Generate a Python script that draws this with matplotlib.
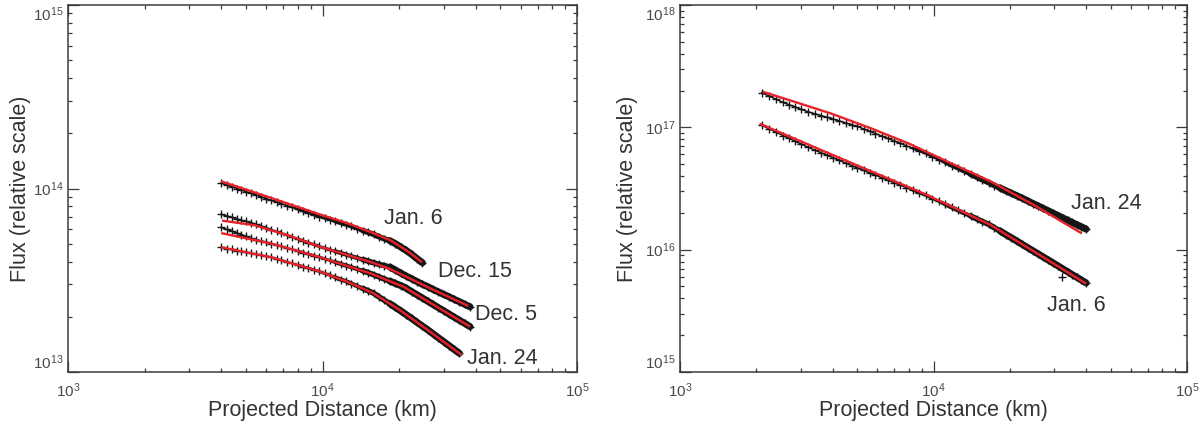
import numpy as np
import matplotlib
matplotlib.use("Agg")
import matplotlib.pyplot as plt
from matplotlib.ticker import LogLocator, NullFormatter

plt.rcParams['font.family'] = ['Liberation Sans', 'DejaVu Sans']
plt.rcParams['mathtext.fontset'] = 'custom'
plt.rcParams['mathtext.rm'] = 'Liberation Sans'
plt.rcParams['mathtext.it'] = 'Liberation Sans:italic'

# ---------------- data: left panel (distance km, log10 flux) ----------------
left_dist_km = [4000, 4200, 4400, 4600, 4800, 5000, 5250, 5500, 5750, 6000,
                6300, 6600, 6900, 7250, 7600, 8000, 8400, 8800, 9250, 9700,
                10200, 10700, 11200, 11800, 12400, 13000, 13700, 14400, 15100, 15900,
                16700, 17500, 18400, 19300, 20300, 21300, 22400, 23500, 24700, 25900,
                27200, 28500, 29900, 31400, 32900, 34500, 36200, 38000]

jan6_L_logflux = [14.029, 14.019, 14.010, 14.000, 13.992, 13.983, 13.973, 13.964, 13.954, 13.945,
                  13.935, 13.926, 13.917, 13.907, 13.897, 13.887, 13.877, 13.868, 13.857, 13.847,
                  13.838, 13.830, 13.821, 13.812, 13.803, 13.793, 13.782, 13.771, 13.761, 13.750,
                  13.737, 13.726, 13.715, 13.700, 13.681, 13.663, 13.641, 13.618, 13.595]

dec15_logflux = [13.859, 13.851, 13.842, 13.834, 13.827, 13.821, 13.813, 13.805, 13.795, 13.787,
                 13.776, 13.766, 13.757, 13.747, 13.736, 13.726, 13.715, 13.705, 13.695, 13.684,
                 13.675, 13.667, 13.658, 13.649, 13.640, 13.631, 13.622, 13.613, 13.604, 13.595,
                 13.586, 13.580, 13.572, 13.556, 13.539, 13.523, 13.508, 13.493, 13.478, 13.465,
                 13.450, 13.437, 13.423, 13.410, 13.396, 13.383, 13.369, 13.355]

dec5_logflux = [13.788, 13.777, 13.768, 13.758, 13.749, 13.739, 13.728, 13.721, 13.714, 13.708,
                13.700, 13.692, 13.685, 13.676, 13.668, 13.659, 13.651, 13.643, 13.634, 13.626,
                13.617, 13.608, 13.599, 13.589, 13.580, 13.571, 13.561, 13.551, 13.542, 13.530,
                13.518, 13.507, 13.495, 13.483, 13.471, 13.457, 13.438, 13.421, 13.403, 13.386,
                13.368, 13.351, 13.334, 13.316, 13.299, 13.282, 13.265, 13.247]

jan24_L_logflux = [13.679, 13.673, 13.668, 13.662, 13.657, 13.652, 13.647, 13.641, 13.636, 13.631,
                   13.625, 13.617, 13.609, 13.600, 13.592, 13.583, 13.574, 13.566, 13.557, 13.548,
                   13.537, 13.527, 13.516, 13.504, 13.494, 13.482, 13.468, 13.455, 13.443, 13.429,
                   13.409, 13.391, 13.372, 13.353, 13.333, 13.313, 13.292, 13.271, 13.250, 13.230,
                   13.208, 13.187, 13.166, 13.144, 13.123, 13.102]

# model fits (red) - left panel
jan6_L_fit_km = [4000, 6300, 9800, 12600, 15500, 18600, 21900, 24600]
jan6_L_fit_log = [14.039, 13.948, 13.858, 13.810, 13.762, 13.716, 13.653, 13.598]
dec15_fit_km = [4030, 5400, 7400, 9800, 12500, 15400, 18400, 26300, 37400]
dec15_fit_log = [13.825, 13.800, 13.743, 13.682, 13.638, 13.600, 13.562, 13.458, 13.360]
dec5_fit_km = [4000, 6300, 9800, 15400, 20800, 28100, 38000]
dec5_fit_log = [13.757, 13.700, 13.625, 13.538, 13.465, 13.356, 13.247]
jan24_L_fit_km = [4000, 6300, 9800, 12600, 15800, 20000, 25100, 35200]
jan24_L_fit_log = [13.680, 13.625, 13.547, 13.490, 13.430, 13.340, 13.243, 13.093]

# ---------------- data: right panel ----------------
right_dist_km = [2100, 2250, 2400, 2550, 2700, 2850, 3000, 3200, 3400, 3600,
                 3800, 4000, 4250, 4500, 4750, 5000, 5300, 5600, 5900, 6250,
                 6600, 7000, 7400, 7800, 8300, 8800, 9300, 9900, 10500, 11100,
                 11800, 12500, 13200, 14000, 14800, 15600, 16500, 17400, 18300, 19300,
                 20300, 21300, 22400, 23500, 24700, 25900, 27100, 28400, 29700, 31000,
                 32400, 33800, 35200, 36700, 38300, 40000]

jan24_R_logflux = [17.283, 17.255, 17.229, 17.203, 17.184, 17.166, 17.148, 17.127, 17.111, 17.096,
                   17.082, 17.069, 17.052, 17.036, 17.021, 17.007, 16.988, 16.968, 16.949, 16.929,
                   16.909, 16.889, 16.869, 16.850, 16.828, 16.808, 16.788, 16.761, 16.737, 16.714,
                   16.688, 16.664, 16.640, 16.616, 16.593, 16.571, 16.548, 16.524, 16.504, 16.481,
                   16.461, 16.441, 16.420, 16.399, 16.377, 16.357, 16.337, 16.317, 16.297, 16.279,
                   16.259, 16.241, 16.223, 16.205, 16.187, 16.168]

jan6_R_logflux = [17.016, 16.987, 16.959, 16.933, 16.909, 16.885, 16.864, 16.837, 16.814, 16.793,
                  16.772, 16.753, 16.730, 16.708, 16.688, 16.669, 16.648, 16.628, 16.609, 16.588,
                  16.568, 16.547, 16.527, 16.508, 16.485, 16.464, 16.444, 16.418, 16.394, 16.371,
                  16.345, 16.321, 16.298, 16.275, 16.252, 16.230, 16.207, 16.179, 16.153, 16.123,
                  16.097, 16.071, 16.043, 16.017, 15.990, 15.965, 15.940, 15.915, 15.890, 15.867,
                  15.842, 15.820, 15.797, 15.775, 15.752, 15.728]
jan6_R_outlier_km = [32100]
jan6_R_outlier_log = [15.779]

jan24_R_fit_km = [2120, 2820, 3980, 5620, 7940, 11220, 16980, 25120, 38460]
jan24_R_fit_log = [17.291, 17.210, 17.110, 16.995, 16.870, 16.725, 16.553, 16.360, 16.133]
jan6_R_fit_km = [2060, 3160, 5050, 9250, 16700, 26300, 40000]
jan6_R_fit_log = [17.030, 16.865, 16.685, 16.455, 16.205, 15.955, 15.722]

left_labels = ["Jan. 6", "Dec. 15", "Dec. 5", "Jan. 24"]
right_labels = ["Jan. 24", "Jan. 6"]

# ---------------- styling ----------------
GRAY = '#3a3a3a'
RED = '#e8212a'
BLACK = '#161616'

fig = plt.figure(figsize=(12.04, 4.28), dpi=100)
axL = fig.add_axes([68/1204, 1-372/428, 509/1204, 367/428])
axR = fig.add_axes([680/1204, 1-372/428, 507/1204, 367/428])


def style_axes(ax, ydec):
    ax.set_xscale('log')
    ax.set_yscale('log')
    ax.set_xlim(1e3, 1e5)
    ax.set_ylim(10.0**ydec[0], 10.0**ydec[-1])
    ax.set_xticks([10.0**d for d in (3, 4, 5)],
                  [r'$10^{%d}$' % d for d in (3, 4, 5)])
    ax.set_yticks([10.0**d for d in ydec],
                  [r'$10^{%d}$' % d for d in ydec])
    ax.xaxis.set_minor_locator(LogLocator(base=10, subs=np.arange(2, 10)))
    ax.yaxis.set_minor_locator(LogLocator(base=10, subs=np.arange(2, 10)))
    ax.xaxis.set_minor_formatter(NullFormatter())
    ax.yaxis.set_minor_formatter(NullFormatter())
    ax.tick_params(which='both', direction='in', top=True, right=True,
                   color=GRAY, width=0.9)
    ax.tick_params(which='major', length=8)
    ax.tick_params(which='minor', length=3.2)
    ax.tick_params(axis='x', which='major', pad=7, labelsize=11, labelcolor='#4a4a4a')
    ax.tick_params(axis='y', which='major', pad=3, labelsize=11, labelcolor='#4a4a4a')
    ylabs = ax.get_yticklabels()
    ylabs[0].set_verticalalignment('bottom')
    ylabs[-1].set_verticalalignment('top')
    for s in ax.spines.values():
        s.set_color(GRAY)
        s.set_linewidth(1.1)
    ax.set_xlabel('Projected Distance (km)', fontsize=15.5, color='#333333')
    ax.set_ylabel('Flux (relative scale)', fontsize=15.5, color='#333333')
    ax.xaxis.set_label_coords(0.5, -0.077)


def draw_data(ax, xs, logs):
    x = np.asarray(xs[:len(logs)], dtype=float)
    y = 10.0 ** np.asarray(logs)
    ax.plot(x, y, '-', color=BLACK, lw=1.1, zorder=2)
    for xmin, lw in ((8000, 2.0), (11000, 3.0), (14000, 4.0), (18000, 5.0)):
        m = x >= xmin
        ax.plot(x[m], y[m], '-', color=BLACK, lw=lw, zorder=2, solid_capstyle='round')
    ax.plot(x, y, '+', color=BLACK, ms=5.2, mew=1.0, zorder=3)


def draw_fit(ax, xs, logs):
    ax.plot(xs, 10.0 ** np.asarray(logs), '-', color=RED, lw=1.7, zorder=4,
            solid_capstyle='butt')


style_axes(axL, [13, 14, 15])
style_axes(axR, [15, 16, 17, 18])
axL.yaxis.set_label_coords(-0.072, 0.5)
axR.yaxis.set_label_coords(-0.083, 0.5)

# left panel
draw_data(axL, left_dist_km, jan6_L_logflux)
draw_data(axL, left_dist_km, dec15_logflux)
draw_data(axL, left_dist_km, dec5_logflux)
draw_data(axL, left_dist_km, jan24_L_logflux)
draw_fit(axL, jan6_L_fit_km, jan6_L_fit_log)
draw_fit(axL, dec15_fit_km, dec15_fit_log)
draw_fit(axL, dec5_fit_km, dec5_fit_log)
draw_fit(axL, jan24_L_fit_km, jan24_L_fit_log)

# right panel
draw_data(axR, right_dist_km, jan24_R_logflux)
draw_data(axR, right_dist_km, jan6_R_logflux)
axR.plot(jan6_R_outlier_km, 10.0 ** np.asarray(jan6_R_outlier_log), '+',
         color=BLACK, ms=5.2, mew=1.0, zorder=3)
draw_fit(axR, jan24_R_fit_km, jan24_R_fit_log)
draw_fit(axR, jan6_R_fit_km, jan6_R_fit_log)

# curve labels
txt = dict(fontsize=15.5, color='#333333', ha='center', va='center')
axL.text(22700, 6.9e13, left_labels[0], **txt)
axL.text(39700, 3.51e13, left_labels[1], **txt)
axL.text(52400, 2.05e13, left_labels[2], **txt)
axL.text(50900, 1.19e13, left_labels[3], **txt)
axR.text(48100, 2.4e16, right_labels[0], **txt)
axR.text(36500, 3.52e15, right_labels[1], **txt)

fig.savefig('out.png', dpi=100)
